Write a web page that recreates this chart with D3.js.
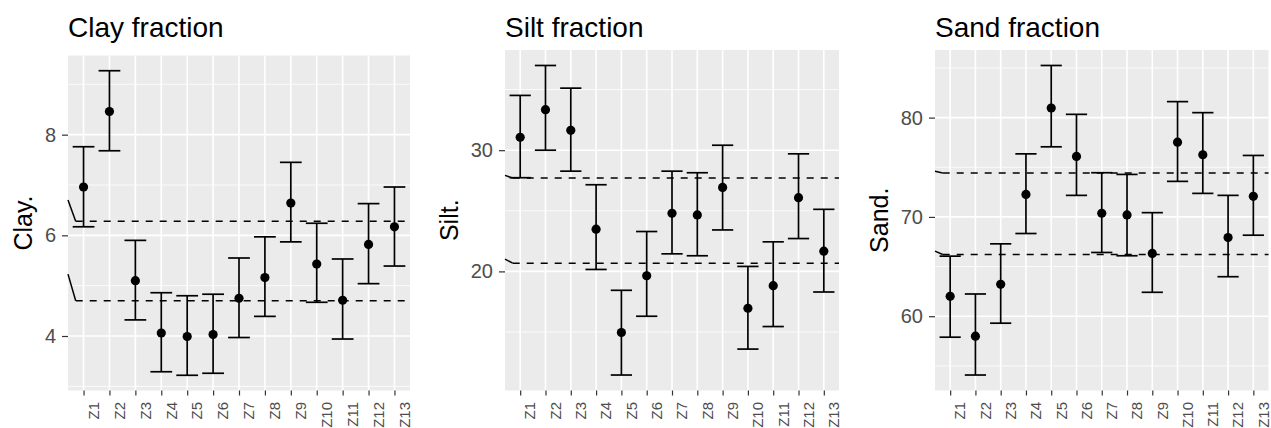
<!DOCTYPE html>
<html>
<head>
<meta charset="utf-8">
<script src="https://cdn.jsdelivr.net/npm/d3@7"></script>
<style>
  body { margin: 0; background: #ffffff; }
  svg { display: block; font-family: "Liberation Sans", Arial, sans-serif; }
</style>
</head>
<body>
<div class="article"></div>
<script>
// zones on the x axis (shared by all three panels)
var zones = ["Z1", "Z2", "Z3", "Z4", "Z5", "Z6", "Z7", "Z8", "Z9", "Z10", "Z11", "Z12", "Z13"];

// Clay fraction: mean and error bar limits
var clayMean  = [6.96, 8.46, 5.10, 4.06, 3.99, 4.03, 4.75, 5.16, 6.64, 5.43, 4.71, 5.82, 6.17];
var clayLower = [6.17, 7.68, 4.32, 3.29, 3.22, 3.26, 3.97, 4.39, 5.87, 4.67, 3.94, 5.04, 5.39];
var clayUpper = [7.76, 9.27, 5.90, 4.86, 4.80, 4.83, 5.55, 5.97, 7.45, 6.24, 5.53, 6.63, 6.96];
var clayLines = [6.28, 4.70];
var clayLineStart = [6.70, 5.23];
var clayTicks = [4, 6, 8];
var clayMinor = [3, 5, 7, 9];

// Silt fraction
var siltMean  = [31.07, 33.34, 31.64, 23.48, 14.96, 19.64, 24.79, 24.66, 26.93, 16.96, 18.82, 26.08, 21.67];
var siltLower = [27.73, 30.00, 28.27, 20.16, 11.45, 16.30, 21.45, 21.29, 23.42, 13.59, 15.45, 22.71, 18.30];
var siltUpper = [34.52, 36.99, 35.12, 27.15, 18.44, 23.29, 28.27, 28.14, 30.41, 20.41, 22.44, 29.70, 25.12];
var siltLines = [27.70, 20.68];
var siltLineStart = [27.92, 21.01];
var siltTicks = [20, 30];
var siltMinor = [15, 25, 35];

// Sand fraction
var sandMean  = [62.00, 57.99, 63.21, 72.27, 80.97, 76.09, 70.37, 70.20, 66.32, 77.53, 76.26, 67.93, 72.07];
var sandLower = [57.89, 54.08, 59.30, 68.33, 77.06, 72.17, 66.42, 66.09, 62.41, 73.58, 72.37, 63.98, 68.16];
var sandUpper = [66.05, 62.24, 67.29, 76.35, 85.25, 80.33, 74.45, 74.28, 70.43, 81.61, 80.50, 72.17, 76.19];
var sandLines = [74.42, 66.22];
var sandLineStart = [74.59, 66.56];
var sandTicks = [60, 70, 80];
var sandMinor = [55, 65, 75, 85];

// SVG area
var svgWidth = 1271;
var svgHeight = 428;

var svg = d3.select(".article")
  .append("svg")
  .attr("width", svgWidth)
  .attr("height", svgHeight);

svg.append("rect")
  .attr("width", svgWidth)
  .attr("height", svgHeight)
  .attr("fill", "#ffffff");

// panel boxes (left, right, top, bottom) in pixels
var panels = [
  { title: "Clay fraction", ylab: "Clay.", mean: clayMean, lower: clayLower, upper: clayUpper,
    lines: clayLines, lineStart: clayLineStart, ticks: clayTicks, minor: clayMinor,
    left: 68, right: 410, top: 55.5, bottom: 390.5 },
  { title: "Silt fraction", ylab: "Silt.", mean: siltMean, lower: siltLower, upper: siltUpper,
    lines: siltLines, lineStart: siltLineStart, ticks: siltTicks, minor: siltMinor,
    left: 505, right: 839, top: 50, bottom: 390.5 },
  { title: "Sand fraction", ylab: "Sand.", mean: sandMean, lower: sandLower, upper: sandUpper,
    lines: sandLines, lineStart: sandLineStart, ticks: sandTicks, minor: sandMinor,
    left: 935, right: 1268.5, top: 50, bottom: 390.5 }
];

panels.forEach(function(p) {

  var rows = zones.map(function(z, i) {
    return { zone: z, mean: p.mean[i], lower: p.lower[i], upper: p.upper[i] };
  });

  // ggplot style 5% expansion of the data range
  var lo = d3.min(rows, d => d.lower);
  var hi = d3.max(rows, d => d.upper);
  var pad = (hi - lo) * 0.05;

  var yScale = d3.scaleLinear()
    .domain([lo - pad, hi + pad])
    .range([p.bottom, p.top]);

  var xScale = d3.scalePoint()
    .domain(zones)
    .range([p.left, p.right])
    .padding(0.6);

  var step = xScale.step();
  var g = svg.append("g");

  // panel background
  g.append("rect")
    .attr("x", p.left)
    .attr("y", p.top)
    .attr("width", p.right - p.left)
    .attr("height", p.bottom - p.top)
    .attr("fill", "#EBEBEB");

  // minor grid
  g.selectAll(".minor")
    .data(p.minor)
    .enter()
    .append("line")
    .attr("x1", p.left)
    .attr("x2", p.right)
    .attr("y1", d => yScale(d))
    .attr("y2", d => yScale(d))
    .attr("stroke", "#ffffff")
    .attr("stroke-width", 0.8);

  // major grid
  g.selectAll(".major")
    .data(p.ticks)
    .enter()
    .append("line")
    .attr("x1", p.left)
    .attr("x2", p.right)
    .attr("y1", d => yScale(d))
    .attr("y2", d => yScale(d))
    .attr("stroke", "#ffffff")
    .attr("stroke-width", 1.6);

  g.selectAll(".vgrid")
    .data(zones)
    .enter()
    .append("line")
    .attr("x1", d => xScale(d))
    .attr("x2", d => xScale(d))
    .attr("y1", p.top)
    .attr("y2", p.bottom)
    .attr("stroke", "#ffffff")
    .attr("stroke-width", 1.6);

  // reference lines: short solid lead-in at the panel edge, then dashed
  var leadX = p.left + 7.7;
  p.lines.forEach(function(v, i) {
    g.append("line")
      .attr("x1", p.left)
      .attr("y1", yScale(p.lineStart[i]))
      .attr("x2", leadX)
      .attr("y2", yScale(v))
      .attr("stroke", "#000000")
      .attr("stroke-width", 1.5);

    g.append("line")
      .attr("x1", leadX)
      .attr("x2", p.right)
      .attr("y1", yScale(v))
      .attr("y2", yScale(v))
      .attr("stroke", "#000000")
      .attr("stroke-width", 1.5)
      .attr("stroke-dasharray", "7,7");
  });

  // error bars
  var half = step * 0.42;
  var bars = g.selectAll(".bar")
    .data(rows)
    .enter()
    .append("g");

  bars.append("line")
    .attr("x1", d => xScale(d.zone))
    .attr("x2", d => xScale(d.zone))
    .attr("y1", d => yScale(d.lower))
    .attr("y2", d => yScale(d.upper))
    .attr("stroke", "#000000")
    .attr("stroke-width", 1.7);

  bars.append("line")
    .attr("x1", d => xScale(d.zone) - half)
    .attr("x2", d => xScale(d.zone) + half)
    .attr("y1", d => yScale(d.upper))
    .attr("y2", d => yScale(d.upper))
    .attr("stroke", "#000000")
    .attr("stroke-width", 1.7);

  bars.append("line")
    .attr("x1", d => xScale(d.zone) - half)
    .attr("x2", d => xScale(d.zone) + half)
    .attr("y1", d => yScale(d.lower))
    .attr("y2", d => yScale(d.lower))
    .attr("stroke", "#000000")
    .attr("stroke-width", 1.7);

  // points
  g.selectAll(".pt")
    .data(rows)
    .enter()
    .append("circle")
    .attr("cx", d => xScale(d.zone))
    .attr("cy", d => yScale(d.mean))
    .attr("r", 4.6)
    .attr("fill", "#000000");

  // y axis
  var leftAxis = d3.axisLeft(yScale)
    .tickValues(p.ticks)
    .tickFormat(d3.format("d"))
    .tickSize(6)
    .tickPadding(6);

  var yAxisG = g.append("g")
    .attr("transform", `translate(${p.left}, 0)`)
    .call(leftAxis);

  yAxisG.select(".domain").remove();
  yAxisG.selectAll("line").attr("stroke", "#333333").attr("stroke-width", 1.2);
  yAxisG.selectAll("text")
    .attr("fill", "#4D4D4D")
    .attr("font-size", "20px")
    .attr("font-family", "Liberation Sans, Arial, sans-serif");

  // x axis
  var bottomAxis = d3.axisBottom(xScale)
    .tickSize(5);

  var xAxisG = g.append("g")
    .attr("transform", `translate(0, ${p.bottom})`)
    .call(bottomAxis);

  xAxisG.select(".domain").remove();
  xAxisG.selectAll("line").attr("stroke", "#333333").attr("stroke-width", 1.2);
  xAxisG.selectAll("text")
    .attr("transform", "rotate(-90)")
    .attr("x", -11.5)
    .attr("y", 14.8)
    .attr("dy", null)
    .attr("text-anchor", "end")
    .attr("fill", "#4D4D4D")
    .attr("font-size", "15px")
    .attr("font-family", "Liberation Sans, Arial, sans-serif");

  // y axis title, placed left of the widest tick label
  var labLeft = yAxisG.node().getBBox().x + p.left;
  var midY = (p.top + p.bottom) / 2;
  g.append("text")
    .attr("transform", `translate(${labLeft - 13}, ${midY}) rotate(-90)`)
    .attr("text-anchor", "middle")
    .attr("font-size", "25px")
    .attr("fill", "#000000")
    .text(p.ylab);

  // panel title
  g.append("text")
    .attr("x", p.left)
    .attr("y", 37)
    .attr("font-size", "28px")
    .attr("fill", "#000000")
    .text(p.title);
});
</script>
</body>
</html>
